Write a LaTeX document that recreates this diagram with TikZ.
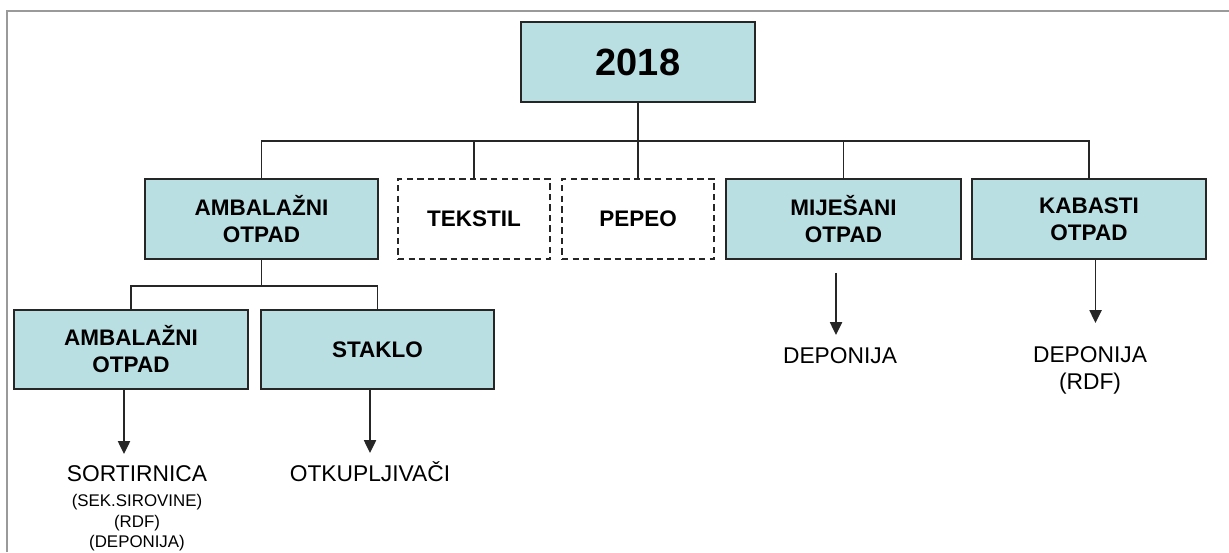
\documentclass[tikz,border=0pt]{standalone}
\usepackage{fontspec}
\setmainfont{Liberation Sans}
\usepackage{tikz}
\usetikzlibrary{arrows.meta,positioning,calc}
\definecolor{boxfill}{HTML}{BADFE3}
\definecolor{boxline}{HTML}{262626}
\definecolor{framegray}{HTML}{9A9A9A}

\begin{document}
\begin{tikzpicture}[
  box/.style={rectangle,draw=boxline,line width=1.2pt,fill=boxfill,align=center,minimum width=5.85cm,minimum height=2cm,font=\bfseries\fontsize{16}{19.2}\selectfont},
  dashbox/.style={rectangle,draw=boxline,line width=1.1pt,dash pattern=on 4.5pt off 3pt,minimum width=3.8cm,minimum height=2cm,font=\bfseries\fontsize{16}{19.2}\selectfont},
  link/.style={draw=boxline,line width=1.3pt},
  arr/.style={link,-{Triangle[length=0.32cm,width=0.3cm]}},
  outtext/.style={align=center,inner sep=0pt,font=\fontsize{16.2}{19.2}\selectfont},
  smalltext/.style={align=center,inner sep=0pt,font=\fontsize{12}{14.6}\selectfont}
]
\useasboundingbox (0,0) rectangle (30.725,-13.8);
% frame
\draw[framegray,line width=1.4pt] (0.175,-13.8) |- (30.725,-0.275);

% year node
\node[box,font=\bfseries\fontsize{27}{32}\selectfont,name=year] at (15.95,-1.55) {2018};

% waste types
\node[box,minimum width=5.825cm,name=amb] at (6.5375,-5.475) {AMBALAŽNI\\OTPAD};
\node[dashbox,name=tekstil] at (11.85,-5.475) {TEKSTIL};
\node[dashbox,name=pepeo] at (15.95,-5.475) {PEPEO};
\node[box,minimum width=5.875cm,name=mijesani] at (21.0875,-5.475) {MIJEŠANI\\OTPAD};
\node[box,name=kabasti] at (27.225,-5.475) {KABASTI\\OTPAD};

% packaging split
\node[box,minimum height=1.975cm,name=amb_sub] at (3.275,-8.7375) {AMBALAŽNI\\OTPAD};
\node[box,minimum width=5.825cm,minimum height=1.975cm,name=staklo] at (9.4375,-8.7375) {STAKLO};

% destinations
\node[outtext,name=sortir] at (3.425,-11.85) {SORTIRNICA};
\node[smalltext,below=0.3cm of sortir,name=sortir_note] {(SEK.SIROVINE)\\(RDF)\\(DEPONIJA)};
\node[outtext,name=otkup] at (9.25,-11.8) {OTKUPLJIVAČI};
\node[outtext,name=dep_mij] at (21.0,-8.9) {DEPONIJA};
\node[outtext,name=dep_kab] at (27.25,-9.2625) {DEPONIJA\\(RDF)};

% tree lines
\coordinate (bus) at (15.95,-3.525);
\coordinate (subbus) at (6.5375,-7.15);
\draw[link] (year) -- (bus) -| (amb);
\draw[link] (bus) -| (tekstil);
\draw[link] (bus) -- (pepeo);
\draw[link] (bus) -| (mijesani);
\draw[link] (bus) -| (kabasti);
\draw[link] (amb) -- (subbus) -| (amb_sub);
\draw[link] (subbus) -| (staklo);

% arrows
\coordinate (sortir_tip) at (3.1,-11.35);
\coordinate (otkup_tip) at (9.25,-11.325);
\coordinate (dep_mij_tip) at (20.9,-8.375);
\coordinate (dep_kab_tip) at (27.3875,-8.075);
\draw[arr] (amb_sub.south -| sortir_tip) -- (sortir_tip);
\draw[arr] (staklo.south -| otkup_tip) -- (otkup_tip);
\draw[arr] ([yshift=-0.325cm]mijesani.south -| dep_mij_tip) -- (dep_mij_tip);
\draw[arr] (kabasti.south -| dep_kab_tip) -- (dep_kab_tip);
\end{tikzpicture}
\end{document}
